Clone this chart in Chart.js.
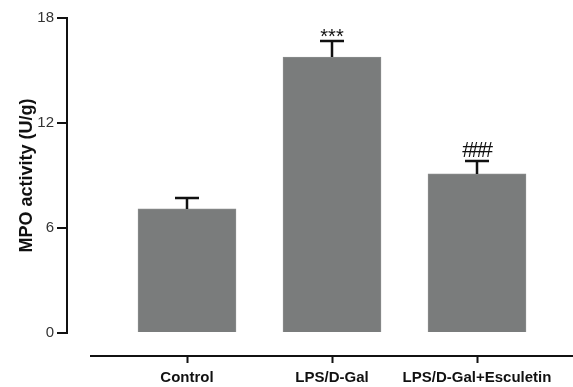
<!DOCTYPE html>
<html>
<head>
<meta charset="utf-8">
<script src="https://cdn.jsdelivr.net/npm/chart.js@4/dist/chart.umd.min.js"></script>
<style>
  html, body { margin: 0; padding: 0; background: #fff; }
  #wrap { width: 573px; height: 387px; }
</style>
</head>
<body>
<div id="wrap"><canvas id="chart"></canvas></div>
<script>
const groups = ['Control', 'LPS/D-Gal', 'LPS/D-Gal+Esculetin'];
const positions = [0, 1, 2];
const meanValues = [7.09, 15.77, 9.09];
const errorTops = [7.71, 16.69, 9.83];
const marks = ['', '***', '###'];
const yTicks = [0, 6, 12, 18];

// mean +/- error caps and the significance marks above them
const errorBars = {
    id: 'errorBars',
    afterDatasetsDraw(chart) {
        const { ctx, scales: { x, y } } = chart;
        ctx.save();
        ctx.strokeStyle = '#111';
        ctx.lineWidth = 2.5;
        ctx.fillStyle = '#111';
        positions.forEach((p, i) => {
            const cx = x.getPixelForValue(p);
            const top = y.getPixelForValue(errorTops[i]);
            const base = y.getPixelForValue(meanValues[i]);
            ctx.beginPath();
            ctx.moveTo(cx, base);
            ctx.lineTo(cx, top);
            ctx.moveTo(cx - 12, top);
            ctx.lineTo(cx + 12, top);
            ctx.stroke();
            if (marks[i]) {
                ctx.textAlign = 'center';
                ctx.textBaseline = 'alphabetic';
                if (marks[i] === '***') {
                    ctx.font = '20px Arial';
                    ctx.letterSpacing = '0px';
                    ctx.fillText(marks[i], cx, top + 2);
                } else {
                    ctx.font = '22px Arial';
                    ctx.letterSpacing = '-3px';
                    ctx.fillText(marks[i], cx - 1, top - 4);
                }
            }
        });
        ctx.restore();
    }
};

// detached x axis line below the plot, Prism style
const detachedAxis = {
    id: 'detachedAxis',
    afterDraw(chart) {
        const { ctx, scales: { x } } = chart;
        const ly = 356;
        ctx.save();
        ctx.strokeStyle = '#111';
        ctx.lineWidth = 2;
        ctx.beginPath();
        ctx.moveTo(90, ly);
        ctx.lineTo(573, ly);
        positions.forEach(p => {
            const px = Math.round(x.getPixelForValue(p)) + 0.5;
            ctx.moveTo(px, ly);
            ctx.lineTo(px, ly + 7);
        });
        ctx.stroke();
        ctx.restore();
    }
};

new Chart(document.getElementById('chart'), {
    type: 'bar',
    data: {
        datasets: [{
            data: positions.map((p, i) => ({ x: p, y: meanValues[i] })),
            backgroundColor: '#7a7c7c',
            borderColor: '#8a8c8c',
            borderWidth: 1,
            barThickness: 98
        }]
    },
    options: {
        responsive: true,
        maintainAspectRatio: false,
        animation: false,
        layout: { padding: { top: 18, right: 0, bottom: 0, left: 0 } },
        plugins: { legend: { display: false }, tooltip: { enabled: false } },
        scales: {
            x: {
                type: 'linear',
                offset: false,
                min: -0.8276,
                max: 2.662,
                afterBuildTicks: s => { s.ticks = positions.map(v => ({ value: v })); },
                afterFit: s => { s.height = 54; },
                grid: { display: true, drawOnChartArea: false, drawTicks: true, tickLength: 34, color: 'rgba(0,0,0,0)' },
                border: { display: false },
                ticks: {
                    padding: 2,
                    color: '#111',
                    font: { family: 'Arial', size: 15, weight: 'bold' },
                    maxRotation: 0,
                    autoSkip: false,
                    callback: v => groups[positions.indexOf(v)]
                }
            },
            y: {
                min: 0,
                max: 18,
                afterBuildTicks: s => { s.ticks = yTicks.map(v => ({ value: v })); },
                afterFit: s => { s.width = 67; },
                grid: { drawOnChartArea: false, drawTicks: true, tickLength: 10, color: '#111', lineWidth: 2 },
                border: { display: true, color: '#111', width: 2 },
                ticks: {
                    padding: 3,
                    color: '#333',
                    font: { family: 'Arial', size: 15 }
                },
                title: {
                    display: true,
                    text: 'MPO activity (U/g)',
                    color: '#111',
                    font: { family: 'Arial', size: 18, weight: 'bold' },
                    padding: { top: 16, bottom: 4 }
                }
            }
        }
    },
    plugins: [errorBars, detachedAxis]
});
</script>
</body>
</html>
